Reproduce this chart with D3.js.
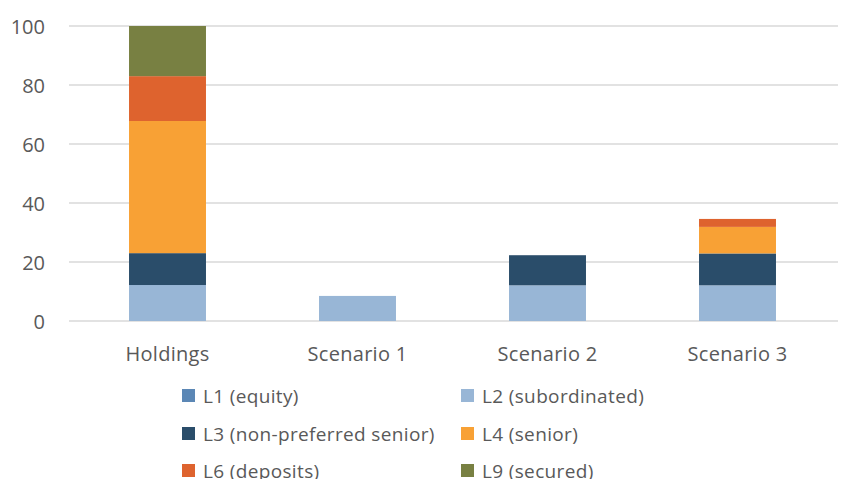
<!DOCTYPE html>
<html><head><meta charset="utf-8">
<script src="https://cdn.jsdelivr.net/npm/d3@7"></script>
<style>body{margin:0;background:#fff;} text{font-family:"Open Sans",sans-serif;fill:#595959;}</style>
</head><body>
<svg id="c" width="846" height="479"></svg>
<script>
const categories = ["Holdings","Scenario 1","Scenario 2","Scenario 3"];
const seriesNames = ["L1 (equity)","L2 (subordinated)","L3 (non-preferred senior)","L4 (senior)","L6 (deposits)","L9 (secured)"];
const L1 = [0, 0, 0, 0];
const L2 = [12.2, 8.5, 12.1, 12.1];
const L3 = [10.8, 0, 10.2, 10.8];
const L4 = [44.8, 0, 0, 9.0];
const L6 = [15.2, 0, 0, 2.7];
const L9 = [17.0, 0, 0, 0];
const yTicks = [0,20,40,60,80,100];
const colors = ["#5b87b5","#98b6d6","#2a4d6a","#f8a135","#de632e","#788042"];

const series = [L1,L2,L3,L4,L6,L9];
const rows = categories.map((c,i)=>{const o={cat:c}; seriesNames.forEach((s,j)=>o[s]=series[j][i]); return o;});
const stacked = d3.stack().keys(seriesNames)(rows);

const svg = d3.select("#c");
const x = d3.scaleBand().domain(categories).range([72.5,832.5]).paddingInner(0.595).paddingOuter(0.2975);
const y = d3.scaleLinear().domain([0,100]).range([321,26]);

// gridlines
svg.append("g").selectAll("line").data(yTicks).join("line")
  .attr("x1",69).attr("x2",838).attr("y1",d=>y(d)).attr("y2",d=>y(d))
  .attr("stroke","#d9d9d9").attr("stroke-width",1.5);

// y labels
const yAxis = d3.axisLeft(y).tickValues(yTicks).tickSize(0).tickPadding(0);
const ga = svg.append("g").attr("transform","translate(45,0)").call(yAxis);
ga.select(".domain").remove();
ga.selectAll("text").attr("font-size",20).attr("font-family","Open Sans").attr("fill","#595959").attr("dy","0.35em");

// bars
svg.append("g").selectAll("g").data(stacked).join("g")
  .attr("fill",(d,i)=>colors[i])
  .selectAll("rect").data(d=>d.filter(s=>s[1]-s[0]>0)).join("rect")
  .attr("x",d=>x(d.data.cat)).attr("width",x.bandwidth())
  .attr("y",d=>y(d[1])).attr("height",d=>y(d[0])-y(d[1]));

// x labels
const xAxis = d3.axisBottom(x).tickSize(0).tickPadding(0);
const gx = svg.append("g").attr("transform","translate(0,354)").call(xAxis);
gx.select(".domain").remove();
gx.selectAll("text").attr("font-size",20).attr("letter-spacing","0.3px").attr("font-family","Open Sans").attr("fill","#595959").attr("dy","0.35em");

// legend
const legPos = [[182,396],[461,396],[182,434],[461,434],[182,471],[461,471]];
const lg = svg.append("g").selectAll("g").data(seriesNames).join("g")
  .attr("transform",(d,i)=>`translate(${legPos[i][0]},${legPos[i][1]})`);
lg.append("rect").attr("x",0).attr("y",-7).attr("width",13).attr("height",13).attr("fill",(d,i)=>colors[i]);
lg.append("text").attr("x",21).attr("y",0).attr("dy","0.35em").attr("font-size",19).attr("letter-spacing","0.35px").text(d=>d);
</script>
</body></html>
